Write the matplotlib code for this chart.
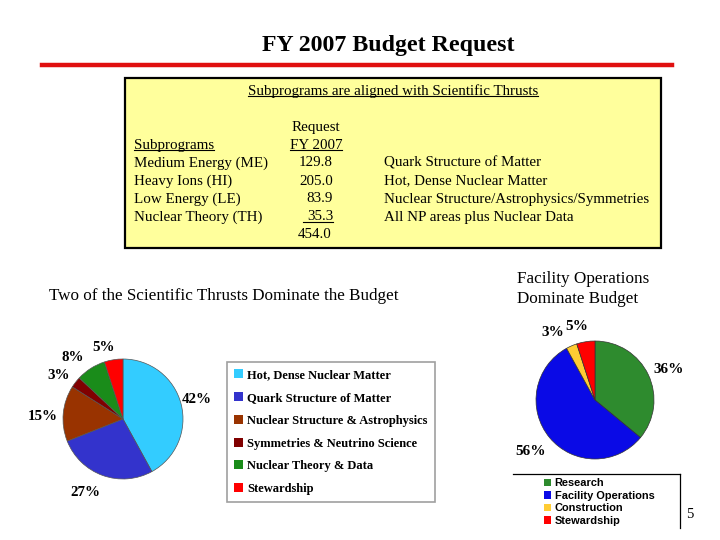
import matplotlib
matplotlib.use("Agg")
import matplotlib.pyplot as plt
from matplotlib.lines import Line2D
from matplotlib.patches import Rectangle

# ---------------- data ----------------
title = "FY 2007 Budget Request"
box_heading = "Subprograms are aligned with Scientific Thrusts"
subprograms = ["Medium Energy (ME)", "Heavy Ions (HI)", "Low Energy (LE)", "Nuclear Theory (TH)"]
requests = [129.8, 205.0, 83.9, 35.3]
total_request = 454.0
thrusts = ["Quark Structure of Matter", "Hot, Dense Nuclear Matter",
           "Nuclear Structure/Astrophysics/Symmetries", "All NP areas plus Nuclear Data"]

thrust_labels = ["Hot, Dense Nuclear Matter", "Quark Structure of Matter",
                 "Nuclear Structure & Astrophysics", "Symmetries & Neutrino Science",
                 "Nuclear Theory & Data", "Stewardship"]
thrust_pct = [42, 27, 15, 3, 8, 5]
thrust_colors = ["#33CCFF", "#3333CC", "#993300", "#800000", "#1A8C1A", "#FF0000"]

ops_labels = ["Research", "Facility Operations", "Construction", "Stewardship"]
ops_pct = [36, 56, 3, 5]
ops_colors = ["#2E8B2E", "#0A0AE6", "#FFCC33", "#FF0000"]

left_heading = "Two of the Scientific Thrusts Dominate the Budget"
right_heading = "Facility Operations\nDominate Budget"
page_no = "5"

# label placement (layout only, in pie-radius units relative to pie centre)
thrust_label_pos = [(1.23, 0.33), (-0.63, -1.22), (-1.33, 0.05),
                    (-1.08, 0.73), (-0.83, 1.03), (-0.32, 1.20)]
ops_label_pos = [(1.24, 0.51), (-1.10, -0.88), (-0.71, 1.15), (-0.31, 1.24)]

# ---------------- figure ----------------
W, H = 720, 540
fig = plt.figure(figsize=(7.2, 5.4), dpi=100)
fig.patch.set_facecolor("white")
SERIF = ["Liberation Serif", "DejaVu Serif"]
SANS = ["Liberation Sans", "DejaVu Sans"]


def fx(x):
    return x / W


def fy(y):
    return 1 - y / H


def ftext(x, y, s, **kw):
    kw.setdefault("family", SERIF)
    return fig.text(fx(x), fy(y), s, **kw)


# title and red rule
ftext(388, 46, title, ha="center", va="center", fontsize=17.2, fontweight="bold")
fig.add_artist(Line2D([fx(42), fx(672)], [fy(65), fy(65)], color="#E01010", lw=3.2))

# yellow box
fig.add_artist(Rectangle((fx(125), fy(248)), fx(661) - fx(125), fy(78) - fy(248),
                         transform=fig.transFigure, facecolor="#FFFF9C",
                         edgecolor="black", lw=1.6))

underlines = []
bs = 10.8
underlines.append(ftext(393, 91, box_heading, ha="center", va="center", fontsize=bs))
ftext(316, 127, "Request", ha="center", va="center", fontsize=bs)
underlines.append(ftext(134, 145, "Subprograms", ha="left", va="center", fontsize=bs))
underlines.append(ftext(316, 145, "FY 2007", ha="center", va="center", fontsize=bs))
row_y = [163, 181, 199, 217]
for i, (sp, rq, th) in enumerate(zip(subprograms, requests, thrusts)):
    ftext(134, row_y[i], sp, ha="left", va="center", fontsize=bs)
    t = ftext(333, row_y[i], f"{rq:.1f}", ha="right", va="center", fontsize=bs)
    if i == len(subprograms) - 1:
        underlines.append(t)
    ftext(384, row_y[i], th, ha="left", va="center", fontsize=bs)
ftext(332, 235, f"{total_request:.1f}", ha="right", va="center", fontsize=bs)

# headings
ftext(49, 296, left_heading, ha="left", va="center", fontsize=12.3)
ftext(517, 289, right_heading, ha="left", va="center", fontsize=12.3, linespacing=1.3)
ftext(690, 515, page_no, ha="center", va="center", fontsize=10.5)

# ---------------- pie 1 ----------------
cx1, cy1, r1 = 123, 419, 60
ax1 = fig.add_axes([fx(cx1 - r1), fy(cy1 + r1), 2 * r1 / W, 2 * r1 / H])
w1, _, at1 = ax1.pie(thrust_pct, colors=thrust_colors, startangle=90, counterclock=False,
                     autopct=lambda p: f"{p:.0f}%", pctdistance=1.3,
                     wedgeprops=dict(edgecolor="#555555", linewidth=0.5),
                     textprops=dict(family=SERIF, fontweight="bold", fontsize=10.8))
for t, pos in zip(at1, thrust_label_pos):
    t.set_position(pos)
ax1.set_xlim(-1, 1)
ax1.set_ylim(-1, 1)
ax1.axis("off")

leg1 = fig.legend(w1, thrust_labels, loc="upper left",
                  bbox_to_anchor=(fx(227), fy(362)), bbox_transform=fig.transFigure,
                  frameon=True, fancybox=False, edgecolor="#A0A0A0", framealpha=1,
                  prop=dict(family=SERIF, weight="bold", size=9),
                  handlelength=0.72, handleheight=0.72, handletextpad=0.3,
                  labelspacing=0.86, borderpad=0.58, borderaxespad=0)
leg1.get_frame().set_linewidth(1.2)
for h in leg1.legend_handles:
    h.set_edgecolor("none")

# ---------------- pie 2 ----------------
cx2, cy2, r2 = 595, 400, 59
ax2 = fig.add_axes([fx(cx2 - r2), fy(cy2 + r2), 2 * r2 / W, 2 * r2 / H])
w2, _, at2 = ax2.pie(ops_pct, colors=ops_colors, startangle=90, counterclock=False,
                     autopct=lambda p: f"{p:.0f}%", pctdistance=1.34,
                     wedgeprops=dict(edgecolor="#333333", linewidth=0.5),
                     textprops=dict(family=SERIF, fontweight="bold", fontsize=11))
for t, pos in zip(at2, ops_label_pos):
    t.set_position(pos)
ax2.set_xlim(-1, 1)
ax2.set_ylim(-1, 1)
ax2.axis("off")

leg2 = fig.legend(w2, ops_labels, loc="upper left",
                  bbox_to_anchor=(fx(543), fy(477)), bbox_transform=fig.transFigure,
                  frameon=False,
                  prop=dict(family=SANS, weight="bold", size=7.9),
                  handlelength=0.65, handleheight=0.65, handletextpad=0.3,
                  labelspacing=0.24, borderpad=0.1, borderaxespad=0)
for h in leg2.legend_handles:
    h.set_edgecolor("none")
fig.add_artist(Line2D([fx(513), fx(680)], [fy(474), fy(474)], color="black", lw=0.9))
fig.add_artist(Line2D([fx(680), fx(680)], [fy(474), fy(528)], color="black", lw=0.9))

# ---------------- underlines ----------------
fig.canvas.draw()
r = fig.canvas.get_renderer()
for t in underlines:
    bb = t.get_window_extent(r)
    y = bb.y0 + 1.5
    x0 = bb.x0
    if t.get_text() == f"{requests[-1]:.1f}":
        x0 -= 4
    fig.add_artist(Line2D([x0 / W, bb.x1 / W], [y / H, y / H], color="black", lw=0.8))

fig.savefig("out.png", dpi=100)
